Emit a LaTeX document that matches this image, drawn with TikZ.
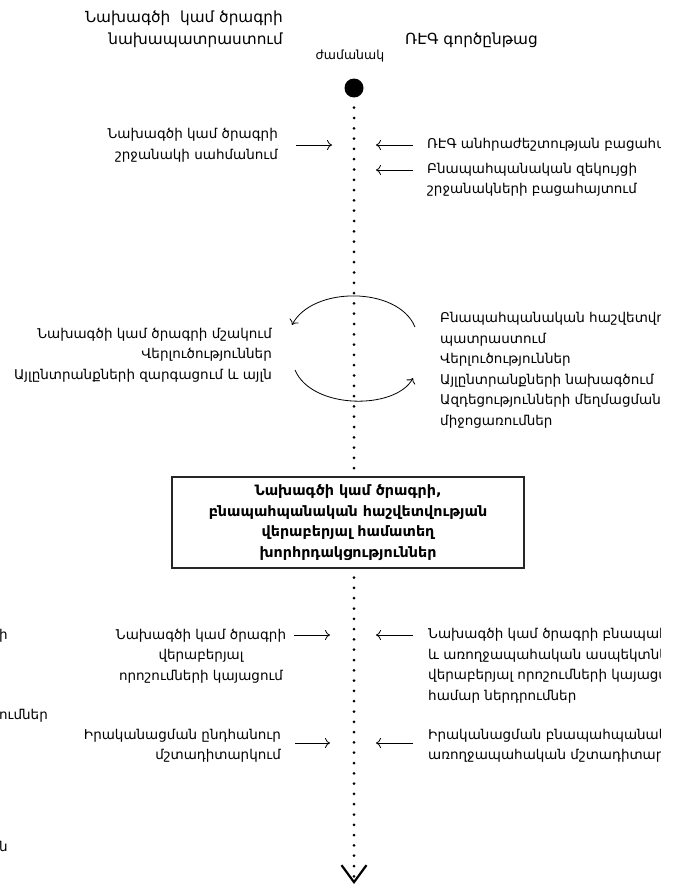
\documentclass[tikz,border=0pt]{standalone}
\usepackage{fontspec}
\setmainfont{DejaVu Sans}
\usetikzlibrary{arrows.meta,positioning,calc}

\begin{document}
\begin{tikzpicture}[x=1pt,y=-1pt,
		txt/.style={inner sep=0pt, font=\fontsize{13.5}{20.5}\selectfont},
		arr/.style={-{To[length=5pt,width=10pt]}, line width=0.8pt},
		dots/.style={line width=3pt, line cap=round, dash pattern=on 0pt off 10.3pt}]
		\useasboundingbox (0,0) rectangle (676,891);
		\node[circle, fill, inner sep=0pt, minimum size=19pt] (start) at (354,88) {};
		\coordinate (end) at (354,884);
		\node[draw=black!85, line width=1.2pt, minimum width=352pt, minimum height=91pt, align=center,
			font=\bfseries\fontsize{14.3}{20.5}\selectfont] (joint) at (348,522.5)
			{Նախագծի կամ ծրագրի,\\ բնապահպանական հաշվետվության\\ վերաբերյալ համատեղ\\ խորհրդակցություններ};
		\draw[dots, shorten <=10pt, shorten >=8pt] (start) -- (start |- joint.north);
		\draw[dots, shorten <=9pt, -{Straight Barb[length=17pt,width=25pt,line width=2.2pt]}] (end |- joint.south) -- (end);
		\begin{scope}
			\clip (0,0) rectangle (660,891);
			\node[txt, font=\fontsize{15.3}{22}\selectfont, anchor=east, align=right] (prep) at (283,29)
				{Նախագծի~ կամ ծրագրի\\ նախապատրաստում};
			\node[txt, font=\fontsize{15.3}{22}\selectfont, anchor=west] (proc) at (405,40) {ՌԷԳ գործընթաց};
			\node[txt, font=\fontsize{12.5}{14}\selectfont] (time) at (350,56) {ժամանակ};
			\node[txt, anchor=east, align=right] (scope) at (278,145.5)
				{Նախագծի կամ ծրագրի\\ շրջանակի սահմանում};
			\node[txt, anchor=west] (need) at (427,145) {ՌԷԳ անհրաժեշտության բացահա};
			\node[txt, anchor=west, align=left] (rscope) at (427,180)
				{Բնապահպանական զեկույցի\\ շրջանակների բացահայտում};
			\node[txt, anchor=east, align=right] (dev) at (272,355)
				{Նախագծի կամ ծրագրի մշակում\\ Վերլուծություններ\\ Այլընտրանքների զարգացում և այլն};
			\node[txt, anchor=west, align=left] (report) at (440,370.5)
				{Բնապահպանական հաշվետվո\\ պատրաստում\\ Վերլուծություններ\\ Այլընտրանքների նախագծում\\ Ազդեցությունների մեղմացման\\ միջոցառումներ};
			\node[txt, align=center] (dec) at (201,656)
				{Նախագծի կամ ծրագրի\\ վերաբերյալ\\ որոշումների կայացում};
			\node[txt, anchor=west, align=left] (input) at (428,666)
				{Նախագծի կամ ծրագրի բնապահ\\ և առողջապահական ասպեկտնե\\ վերաբերյալ որոշումների կայացմ\\ համար ներդրումներ};
			\node[txt, anchor=east, align=right] (mon) at (281,746)
				{Իրականացման ընդհանուր\\ մշտադիտարկում};
			\node[txt, anchor=west, align=left] (emon) at (428,746)
				{Իրականացման բնապահպանակ\\ առողջապահական մշտադիտարկ};
			\node[txt, anchor=east] (frag1) at (8,636) {ի};
			\node[txt, anchor=east] (frag2) at (48,716) {ումներ};
			\node[txt, anchor=east] (frag3) at (8,846) {ն};
		\end{scope}
		\coordinate (t1) at (354,145);
		\coordinate (t2) at (354,170);
		\coordinate (t3) at (354,635);
		\coordinate (t4) at (354,743);
		\draw[arr] ($(t1)+(-58,0)$) -- ($(t1)+(-22,0)$);
		\draw[arr] ($(t1)+(59,0)$) -- ($(t1)+(22,0)$);
		\draw[arr] ($(t2)+(59,0)$) -- ($(t2)+(22,0)$);
		\draw[arr] ($(t3)+(-60,0)$) -- ($(t3)+(-24,0)$);
		\draw[arr] ($(t3)+(59,0)$) -- ($(t3)+(22,0)$);
		\draw[arr] ($(t4)+(-59,0)$) -- ($(t4)+(-24,0)$);
		\draw[arr] ($(t4)+(59,0)$) -- ($(t4)+(22,0)$);
		\coordinate (cyc-a) at (415,327);
		\coordinate (cyc-b) at (292,325);
		\coordinate (cyc-c) at (295,370);
		\coordinate (cyc-d) at (413,378);
		\draw[arr] (cyc-a) .. controls (398,286) and (312,286) .. (cyc-b);
		\draw[arr] (cyc-c) .. controls (312,410) and (396,410) .. (cyc-d);
	\end{tikzpicture}
\end{document}
